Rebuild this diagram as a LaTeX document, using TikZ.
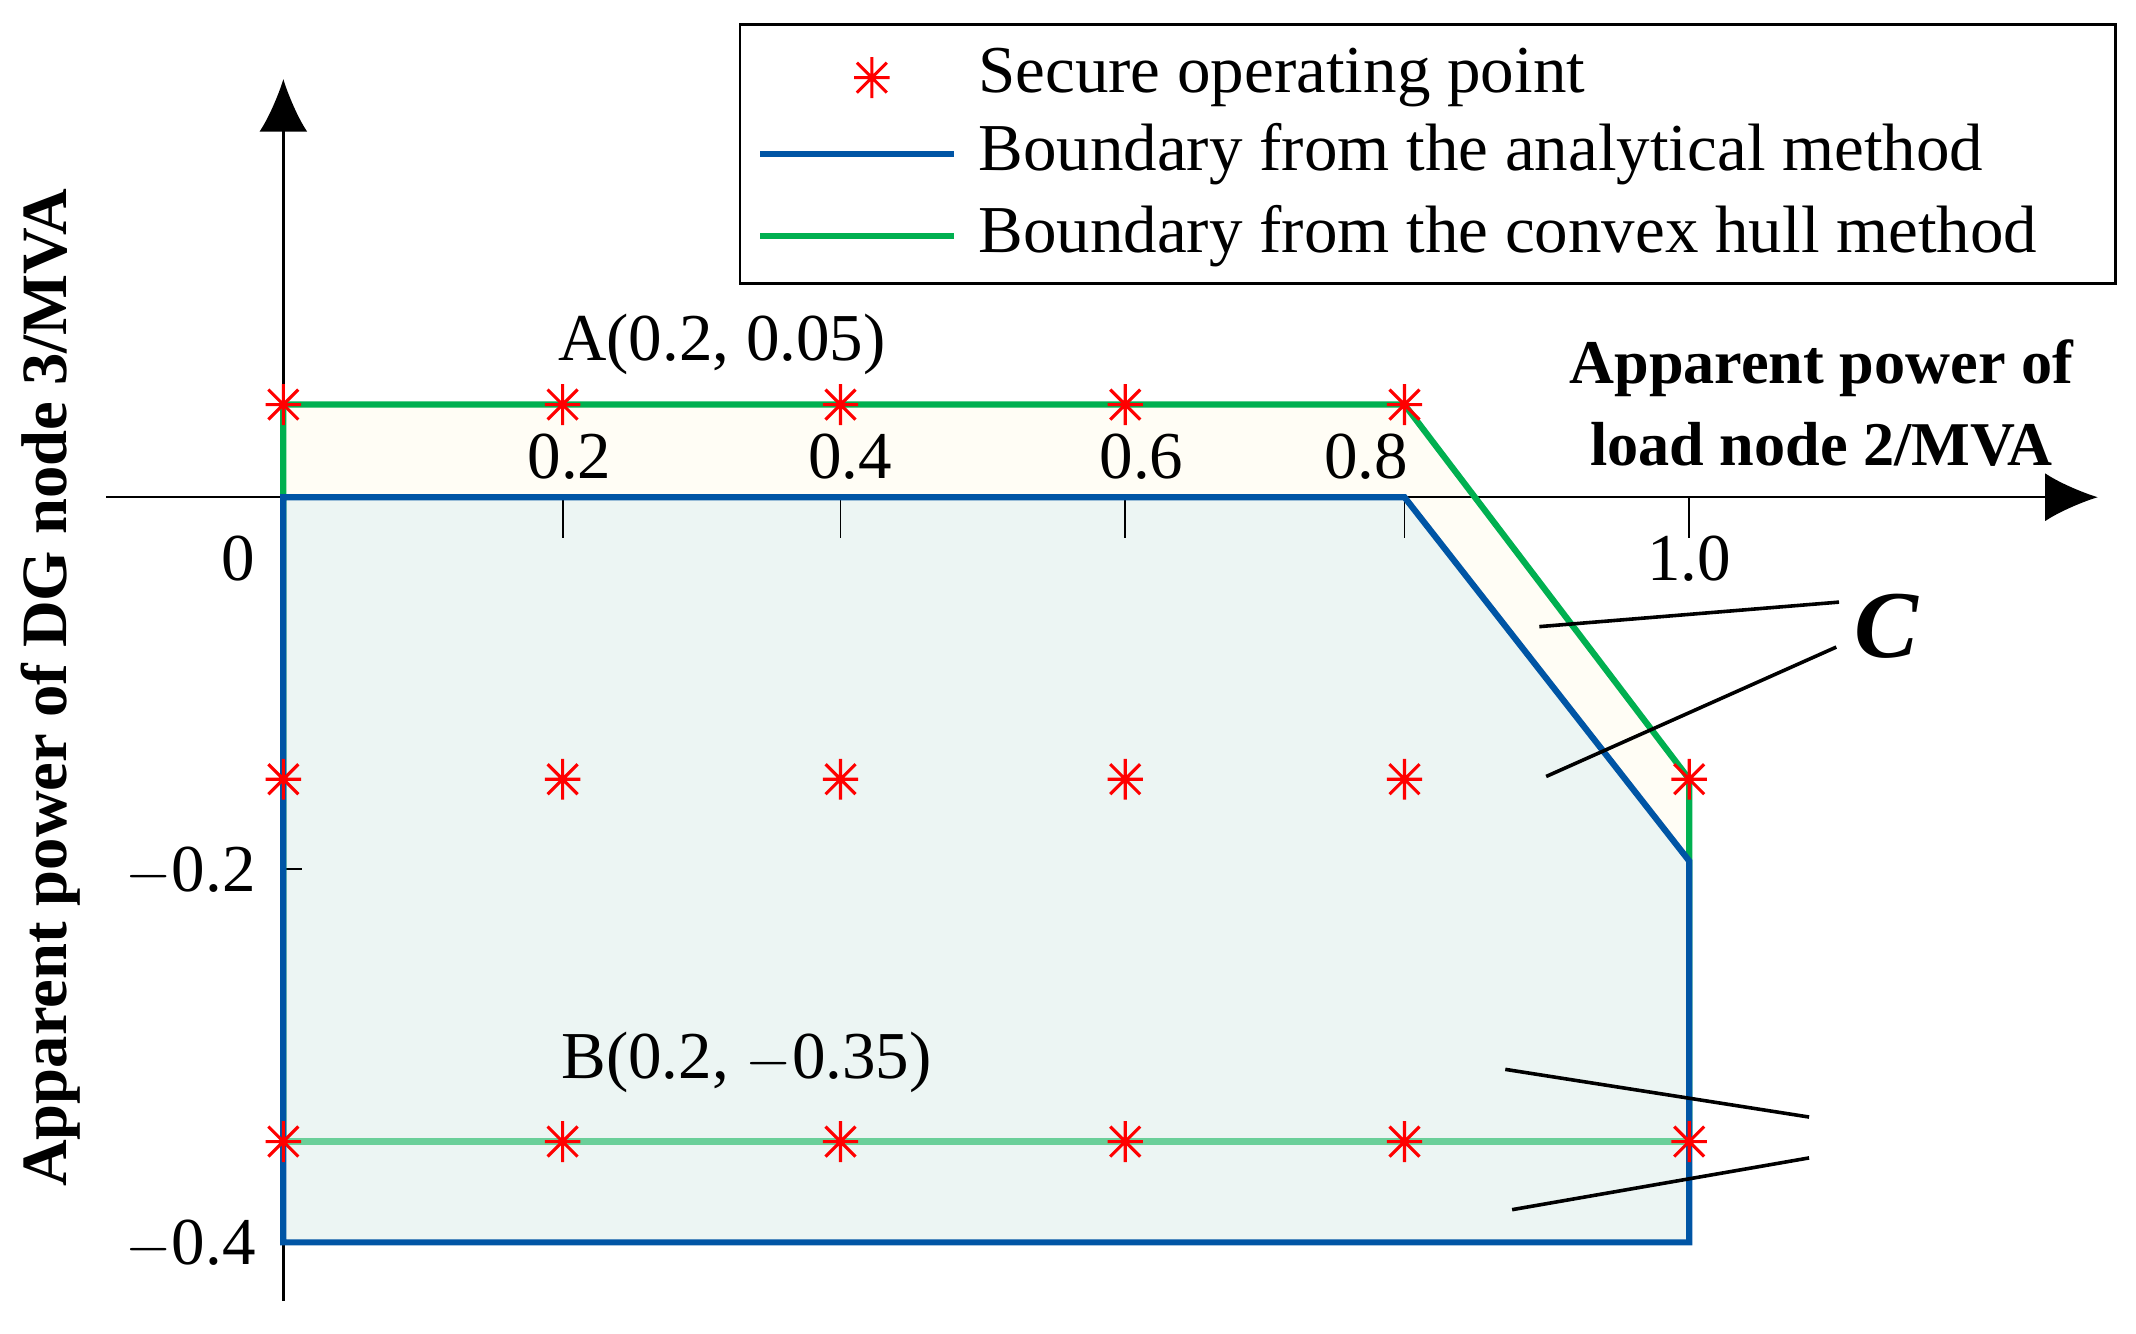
\documentclass[tikz,border=0pt]{standalone}
\usepackage{amsmath}
\usepackage{fontspec}
\setmainfont{Liberation Serif}
\usetikzlibrary{arrows.meta}
\definecolor{cream}{RGB}{255,253,245}
\definecolor{paleg}{RGB}{236,245,243}
\definecolor{bl}{RGB}{0,85,165}
\definecolor{gr}{RGB}{0,176,80}
\begin{document}
\begin{tikzpicture}[x=0.02cm,y=-0.02cm,
  txt/.style={font=\fontsize{28}{32}\selectfont},
  blue line/.style={draw=bl,line width=2.6pt},
  green line/.style={draw=gr,line width=2.6pt},
  star/.pic={\draw[red,line width=1.3pt] (-13,0) -- (13,0) (0,-15) -- (0,15) (-11,-11) -- (11,11) (-11,11) -- (11,-11);},
  lead/.style={line width=1.5pt}]
\useasboundingbox (0,0) rectangle (1568,979);
% fills
\fill[cream] (208,297) -- (1031,297) -- (1240,572) -- (1240,838) -- (208,838) -- cycle;
\fill[paleg] (208,365) -- (1031,365) -- (1240,632) -- (1240,912) -- (208,912) -- cycle;
% axes
\coordinate (xs) at (78,365); \coordinate (xe) at (1540,365);
\coordinate (ys) at (208,955); \coordinate (ye) at (208,58);
\draw[line width=1pt,-{Latex[length=22pt,width=20pt]}] (xs) -- (xe);
\draw[line width=1pt,-{Latex[length=22pt,width=20pt]}] (ys) -- (ye);
\foreach \x in {413,617,826,1031,1240} \draw[line width=0.8pt] (\x,365) -- (\x,395);
\foreach \y in {638,912} \draw[line width=0.8pt] (208,\y) -- (222,\y);
% boundaries
\draw[green line,draw opacity=0.55] (208,838) -- (1240,838);
\draw[green line,line join=miter] (208,838) -- (208,297) -- (1031,297) -- (1240,572) -- (1240,838);
\draw[blue line,line join=miter] (208,365) -- (1031,365) -- (1240,632) -- (1240,912) -- (208,912) -- cycle;
% tick labels
\node[txt] (t2) at (418,335) {0.2};
\node[txt] (t4) at (624,335) {0.4};
\node[txt] (t6) at (838,335) {0.6};
\node[txt] (t8) at (1003,335) {0.8};
\node[txt] (t10) at (1240,410) {1.0};
\node[txt] (t0) at (175,410) {0};
\node[txt] (tm2) at (140,640) {$-$0.2};
\node[txt] (tm4) at (140,914) {$-$0.4};
% stars
\foreach \x in {208,413,617,826,1031} \pic at (\x,297) {star};
\foreach \x in {208,413,617,826,1031,1240} \pic at (\x,572) {star};
\foreach \x in {208,413,617,826,1031,1240} \pic at (\x,838) {star};
% axis labels
\node[font=\fontsize{26}{34}\selectfont\bfseries,align=center] (xl) at (1337,296) {Apparent power of\\load node 2/MVA};
\node[font=\fontsize{27}{30}\selectfont\bfseries,rotate=90] (yl) at (37,505) {Apparent power of DG node 3/MVA};
% point labels
\node[txt] (A) at (530,253) {A(0.2, 0.05)};
\node[txt] (B) at (548,780) {B(0.2, $-$0.35)};
% region labels
\node[font=\fontsize{40}{40}\selectfont\bfseries\itshape] (C) at (1385,460) {C};
\node[font=\fontsize{40}{40}\selectfont] (Om) at (1372,835) {$\boldsymbol{\mathit{\Omega}}$};
\coordinate (c1) at (1130,460); \coordinate (c2) at (1135,570);
\coordinate (o1) at (1105,785); \coordinate (o2) at (1110,888);
\draw[lead] (c1) -- (1350,442);
\draw[lead] (c2) -- (1348,475);
\draw[lead] (o1) -- (1328,820);
\draw[lead] (o2) -- (1328,850);
% legend
\node[draw,line width=1pt,minimum width=20.2cm,minimum height=3.8cm,inner sep=0] (leg) at (1048,113) {};
\pic at (640,57) {star};
\coordinate (lb1) at (558,113); \coordinate (lb2) at (700,113);
\coordinate (lg1) at (558,173); \coordinate (lg2) at (700,173);
\draw[blue line] (lb1) -- (lb2);
\draw[green line] (lg1) -- (lg2);
\node[txt,anchor=west] (l1) at (712,57) {Secure operating point};
\node[txt,anchor=west] (l2) at (712,113) {Boundary from the analytical method};
\node[txt,anchor=west] (l3) at (712,173) {Boundary from the convex hull method};
\end{tikzpicture}
\end{document}
